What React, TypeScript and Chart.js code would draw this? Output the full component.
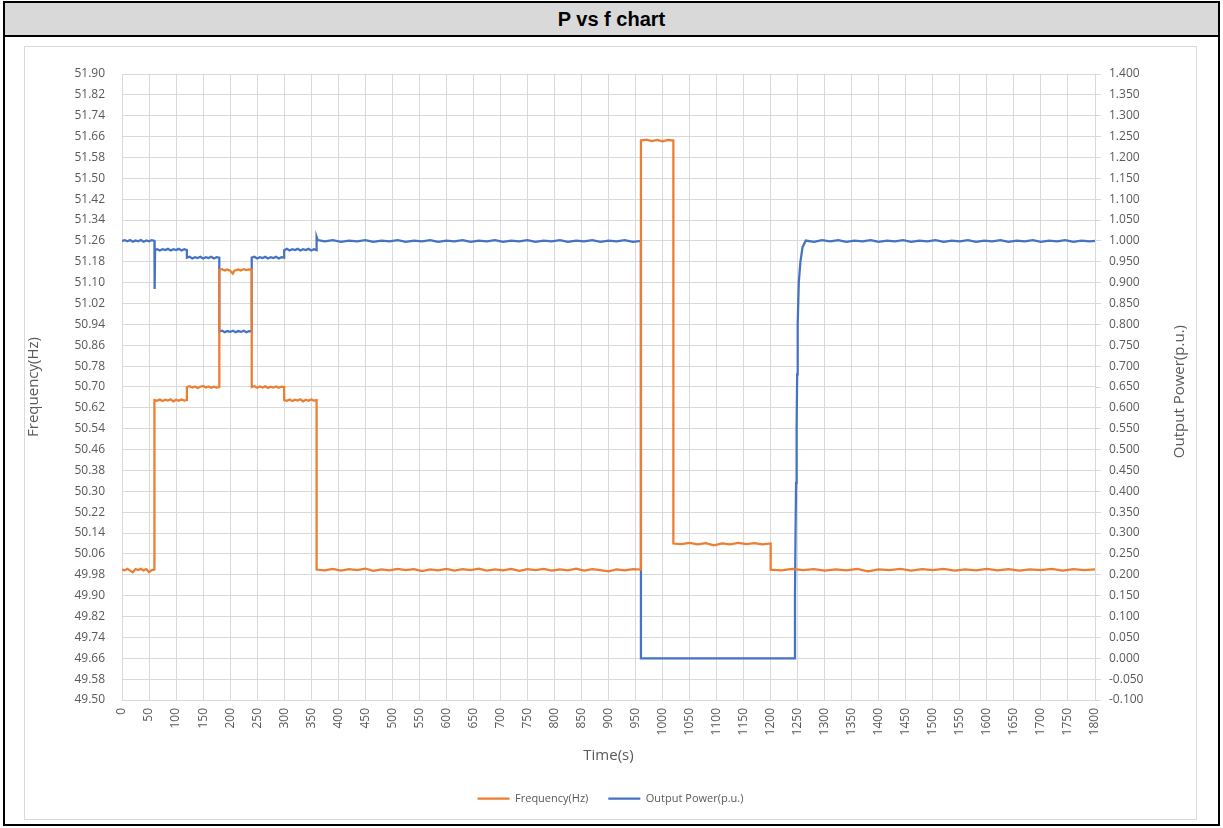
import { useEffect, useRef } from "react";
import { Chart, registerables } from "chart.js";
Chart.register(...registerables);

const chartTitle = "P vs f chart";
const xTitle = "Time(s)";
const leftTitle = "Frequency(Hz)";
const rightTitle = "Output Power(p.u.)";
const freqLabel = "Frequency(Hz)";
const powerLabel = "Output Power(p.u.)";

const timeTicks = [0, 50, 100, 150, 200, 250, 300, 350, 400, 450, 500, 550, 600, 650, 700, 750, 800, 850, 900, 950, 1000, 1050, 1100, 1150, 1200, 1250, 1300, 1350, 1400, 1450, 1500, 1550, 1600, 1650, 1700, 1750, 1800];
const freqTicks = [49.5, 49.58, 49.66, 49.74, 49.82, 49.9, 49.98, 50.06, 50.14, 50.22, 50.3, 50.38, 50.46, 50.54, 50.62, 50.7, 50.78, 50.86, 50.94, 51.02, 51.1, 51.18, 51.26, 51.34, 51.42, 51.5, 51.58, 51.66, 51.74, 51.82, 51.9];
const powerTicks = [-0.1, -0.05, 0, 0.05, 0.1, 0.15, 0.2, 0.25, 0.3, 0.35, 0.4, 0.45, 0.5, 0.55, 0.6, 0.65, 0.7, 0.75, 0.8, 0.85, 0.9, 0.95, 1.0, 1.05, 1.1, 1.15, 1.2, 1.25, 1.3, 1.35, 1.4];

// Frequency (Hz): [time s, value]
const freqPoints: [number, number][] = [
  [0, 50.0], [5, 49.997], [10, 50.003], [15, 49.996], [20, 49.99], [25, 50.002], [30, 49.998], [35, 50.003], [40, 49.997], [45, 50.002], [50, 49.99], [55, 49.998], [60, 50.0],
  [60, 50.65], [65, 50.647], [70, 50.652], [75, 50.646], [80, 50.651], [85, 50.648], [90, 50.653], [95, 50.645], [100, 50.651], [105, 50.647], [110, 50.652], [115, 50.648], [120, 50.65],
  [120, 50.7], [125, 50.703], [130, 50.698], [135, 50.702], [140, 50.696], [145, 50.701], [150, 50.704], [155, 50.698], [160, 50.702], [165, 50.697], [170, 50.701], [175, 50.698], [180, 50.7],
  [180, 51.15], [185, 51.152], [190, 51.147], [195, 51.151], [200, 51.146], [205, 51.135], [208, 51.146], [215, 51.151], [220, 51.147], [225, 51.152], [230, 51.148], [235, 51.151], [240, 51.15],
  [240, 50.7], [245, 50.703], [250, 50.697], [255, 50.702], [260, 50.698], [265, 50.703], [270, 50.696], [275, 50.701], [280, 50.698], [285, 50.702], [290, 50.697], [295, 50.701], [300, 50.7],
  [300, 50.65], [305, 50.647], [310, 50.652], [315, 50.646], [320, 50.651], [325, 50.648], [330, 50.653], [335, 50.645], [340, 50.651], [345, 50.647], [350, 50.652], [355, 50.648], [360, 50.65],
  [360, 50.0], [375, 49.997], [390, 50.003], [405, 49.996], [420, 50.002], [435, 49.998], [450, 50.004], [465, 49.995], [480, 50.001], [495, 49.997], [510, 50.003], [525, 49.998], [540, 50.002], [555, 49.994], [570, 50.001], [585, 49.997], [600, 50.003], [615, 49.996], [630, 50.002], [645, 49.998], [660, 50.004], [675, 49.996], [690, 50.001], [705, 49.997], [720, 50.003], [735, 49.995], [750, 50.002], [765, 49.998], [780, 50.003], [795, 49.996], [810, 50.001], [825, 49.997], [840, 50.004], [855, 49.996], [870, 50.002], [885, 49.998], [900, 49.993], [915, 50.001], [930, 49.997], [945, 50.002], [960, 50.0],
  [960, 51.645], [970, 51.648], [980, 51.643], [990, 51.647], [1000, 51.642], [1010, 51.647], [1020, 51.645],
  [1020, 50.1], [1035, 50.098], [1050, 50.102], [1065, 50.097], [1080, 50.101], [1095, 50.093], [1110, 50.1], [1125, 50.097], [1140, 50.102], [1155, 50.098], [1170, 50.101], [1185, 50.097], [1200, 50.1],
  [1200, 50.0], [1220, 49.997], [1240, 50.003], [1260, 49.998], [1280, 50.002], [1300, 49.996], [1320, 50.001], [1340, 49.997], [1360, 50.003], [1380, 49.993], [1400, 50.001], [1420, 49.998], [1440, 50.003], [1460, 49.996], [1480, 50.002], [1500, 49.998], [1520, 50.003], [1540, 49.996], [1560, 50.001], [1580, 49.997], [1600, 50.003], [1620, 49.997], [1640, 50.002], [1660, 49.996], [1680, 50.001], [1700, 49.998], [1720, 50.003], [1740, 49.996], [1760, 50.002], [1780, 49.998], [1800, 50.001],
];

// Output power (p.u.): [time s, value]
const powerPoints: [number, number][] = [
  [0, 1.0], [5, 1.002], [10, 0.999], [15, 1.002], [20, 0.998], [25, 1.001], [30, 0.999], [35, 1.002], [40, 0.998], [45, 1.001], [50, 0.999], [55, 1.002], [60, 1.0],
  [60.4, 0.885], [61.2, 0.978], [65, 0.98], [70, 0.977], [75, 0.98], [80, 0.978], [85, 0.981], [90, 0.977], [95, 0.98], [100, 0.978], [105, 0.981], [110, 0.977], [115, 0.98], [120, 0.978],
  [120, 0.96], [125, 0.962], [130, 0.958], [135, 0.961], [140, 0.959], [145, 0.962], [150, 0.958], [155, 0.961], [160, 0.959], [165, 0.962], [170, 0.958], [175, 0.961], [180, 0.96],
  [180, 0.783], [185, 0.785], [190, 0.781], [195, 0.784], [200, 0.782], [205, 0.785], [210, 0.781], [215, 0.784], [220, 0.782], [225, 0.785], [230, 0.781], [235, 0.784], [240, 0.783],
  [240, 0.96], [245, 0.962], [250, 0.958], [255, 0.961], [260, 0.959], [265, 0.962], [270, 0.958], [275, 0.961], [280, 0.959], [285, 0.962], [290, 0.958], [295, 0.961], [300, 0.96],
  [300, 0.978], [305, 0.981], [310, 0.977], [315, 0.98], [320, 0.978], [325, 0.981], [330, 0.977], [335, 0.98], [340, 0.978], [345, 0.981], [350, 0.977], [355, 0.98], [360, 0.978],
  [360, 1.01], [362, 1.002], [375, 0.999], [390, 1.002], [405, 0.998], [420, 1.001], [435, 0.999], [450, 1.002], [465, 0.998], [480, 1.001], [495, 0.999], [510, 1.002], [525, 0.998], [540, 1.001], [555, 0.999], [570, 1.002], [585, 0.998], [600, 1.001], [615, 0.999], [630, 1.002], [645, 0.998], [660, 1.001], [675, 0.999], [690, 1.002], [705, 0.998], [720, 1.001], [735, 0.999], [750, 1.002], [765, 0.998], [780, 1.001], [795, 0.999], [810, 1.002], [825, 0.998], [840, 1.001], [855, 0.999], [870, 1.002], [885, 0.998], [900, 1.001], [915, 0.999], [930, 1.002], [945, 0.998], [960, 1.0],
  [960, 0.0], [1244, 0.0],
  [1245, 0.15], [1246, 0.3], [1247, 0.42], [1248, 0.55], [1249, 0.68], [1250, 0.8], [1252, 0.9], [1255, 0.95], [1259, 0.985], [1265, 1.001],
  [1280, 0.998], [1295, 1.002], [1310, 0.999], [1325, 1.002], [1340, 0.998], [1355, 1.001], [1370, 0.999], [1385, 1.002], [1400, 0.998], [1415, 1.001], [1430, 0.999], [1445, 1.002], [1460, 0.998], [1475, 1.001], [1490, 0.999], [1505, 1.002], [1520, 0.998], [1535, 1.001], [1550, 0.999], [1565, 1.002], [1580, 0.998], [1595, 1.001], [1610, 0.999], [1625, 1.002], [1640, 0.998], [1655, 1.001], [1670, 0.999], [1685, 1.002], [1700, 0.998], [1715, 1.001], [1730, 0.999], [1745, 1.002], [1760, 0.998], [1775, 1.001], [1790, 0.999], [1800, 1.0],
];

const textColor = "#595959";
const gridColor = "#d9d9d9";
const orange = "#ED7D31";
const blue = "#4472C4";
const font = "'Open Sans', 'DejaVu Sans', sans-serif";

function ChartBox() {
  const ref = useRef<HTMLCanvasElement | null>(null);
  useEffect(() => {
    if (!ref.current) return;
    const chart = new Chart(ref.current, {
      type: "line",
      data: {
        datasets: [
          {
            label: freqLabel,
            data: freqPoints.map(([t, v]) => ({ x: t, y: v })),
            borderColor: orange,
            backgroundColor: orange,
            borderWidth: 2.25,
            pointRadius: 0,
            tension: 0,
            yAxisID: "y",
          },
          {
            label: powerLabel,
            data: powerPoints.map(([t, v]) => ({ x: t, y: v })),
            borderColor: blue,
            backgroundColor: blue,
            borderWidth: 2.25,
            pointRadius: 0,
            tension: 0,
            yAxisID: "y1",
          },
        ],
      },
      options: {
        animation: false,
        responsive: false,
        devicePixelRatio: 1,
        layout: { padding: { top: 27, bottom: 5, left: 0, right: 0 } },
        plugins: {
          tooltip: { enabled: false },
          legend: {
            position: "bottom",
            labels: {
              usePointStyle: true,
              pointStyle: "line",
              pointStyleWidth: 32,
              padding: 20,
              color: textColor,
              font: { family: font, size: 11 },
            },
          },
        },
        scales: {
          x: {
            type: "linear",
            min: 0,
            max: 1800,
            afterBuildTicks: (s: any) => {
              s.ticks = timeTicks.map((v) => ({ value: v }));
            },
            afterFit: (s: any) => {
              s.height = 73;
            },
            grid: { color: gridColor, drawTicks: false },
            border: { color: gridColor },
            ticks: {
              autoSkip: false,
              maxRotation: 90,
              minRotation: 90,
              padding: 8,
              color: textColor,
              font: { family: font, size: 12 },
              callback: (v: any) => String(v),
            },
            title: {
              display: true,
              text: xTitle,
              color: textColor,
              font: { family: font, size: 15 },
              padding: { top: 11, bottom: 8 },
            },
          },
          y: {
            type: "linear",
            position: "left",
            min: 49.5,
            max: 51.9,
            afterBuildTicks: (s: any) => {
              s.ticks = freqTicks.map((v) => ({ value: v }));
            },
            afterFit: (s: any) => {
              s.width = 97;
            },
            grid: { color: gridColor, drawTicks: false },
            border: { color: gridColor },
            ticks: {
              padding: 17,
              color: textColor,
              font: { family: font, size: 12 },
              callback: (v: any) => Number(v).toFixed(2),
            },
            title: {
              display: true,
              text: leftTitle,
              color: textColor,
              font: { family: font, size: 15 },
              padding: { top: 0, bottom: 0 },
            },
          },
          y1: {
            type: "linear",
            position: "right",
            min: -0.1,
            max: 1.4,
            afterBuildTicks: (s: any) => {
              s.ticks = powerTicks.map((v) => ({ value: v }));
            },
            afterFit: (s: any) => {
              s.width = 101;
            },
            grid: { drawOnChartArea: false, color: gridColor, drawTicks: true, tickLength: 6 },
            border: { color: gridColor },
            ticks: {
              padding: 8,
              color: textColor,
              font: { family: font, size: 12 },
              callback: (v: any) => Number(v).toFixed(3),
            },
          },
        },
      },
    });
    return () => chart.destroy();
  }, []);
  return <canvas ref={ref} width={1171} height={772} style={{ display: "block" }} />;
}

export default function App() {
  return (
    <div style={{ position: "fixed", left: 0, top: 0, width: 1223, height: 828, background: "#fff" }}>
      <div
        style={{
          position: "absolute",
          left: 3,
          top: 1,
          width: 1217,
          height: 825,
          border: "2px solid #000",
          boxSizing: "border-box",
        }}
      >
        <div
          style={{
            height: 32,
            background: "#d9d9d9",
            borderBottom: "2px solid #000",
            textAlign: "center",
            lineHeight: "32px",
            fontFamily: "'Liberation Sans', Arial, sans-serif",
            fontWeight: "bold",
            fontSize: 20,
            color: "#000",
          }}
        >
          {chartTitle}
        </div>
      </div>
      <div
        style={{
          position: "absolute",
          left: 24,
          top: 46,
          width: 1173,
          height: 774,
          border: "1px solid #d9d9d9",
          boxSizing: "border-box",
        }}
      >
        <ChartBox />
      </div>
      <div
        style={{
          position: "absolute",
          left: 1178 - 12,
          top: 392 - 90,
          width: 24,
          height: 180,
          display: "flex",
          alignItems: "center",
          justifyContent: "center",
        }}
      >
        <div
          style={{
            writingMode: "vertical-rl",
            transform: "rotate(180deg)",
            fontFamily: font,
            fontSize: 15,
            color: textColor,
            whiteSpace: "nowrap",
          }}
        >
          {rightTitle}
        </div>
      </div>
    </div>
  );
}
